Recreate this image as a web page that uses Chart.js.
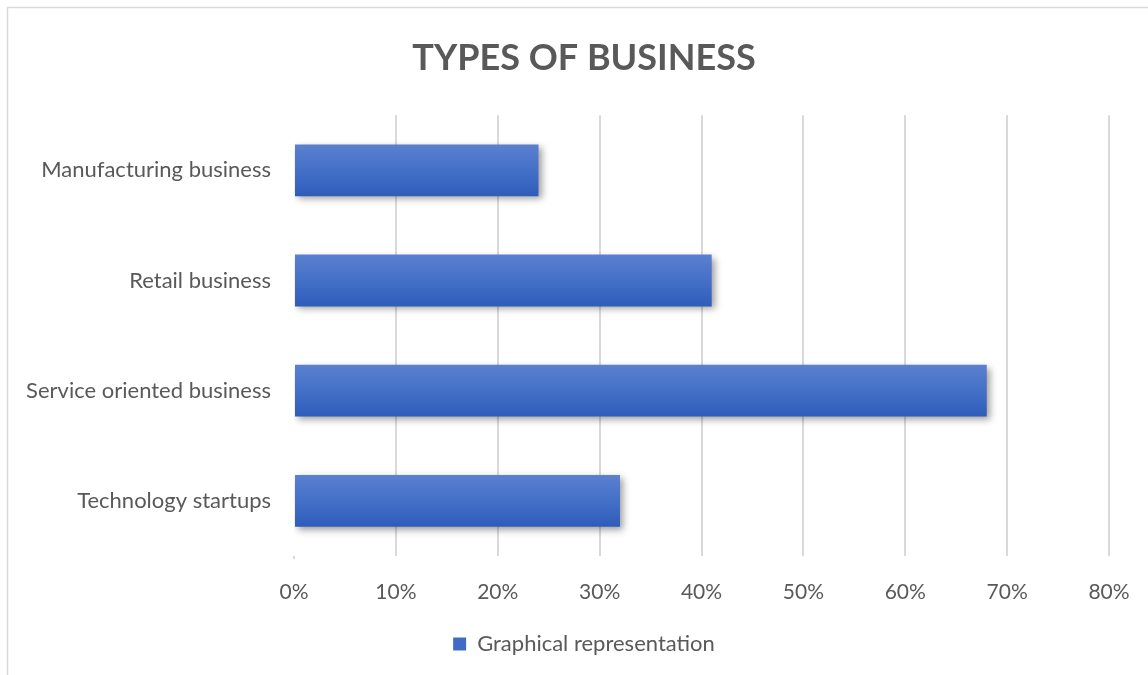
<!DOCTYPE html>
<html>
<head>
<meta charset="utf-8">
<title>Types of business</title>
<script src="https://cdn.jsdelivr.net/npm/chart.js@4/dist/chart.umd.min.js"></script>
<style>
  html, body { margin: 0; padding: 0; background: #ffffff; }
  canvas { display: block; }
</style>
</head>
<body>
<canvas id="businessChart" width="1148" height="675"></canvas>
<script>
// chart data
const categories = ['Manufacturing business', 'Retail business', 'Service oriented business', 'Technology startups'];
const shares = [0.24, 0.41, 0.68, 0.32];
const tickValues = [0, 0.1, 0.2, 0.3, 0.4, 0.5, 0.6, 0.7, 0.8];
const seriesName = 'Graphical representation';

const textColor = '#595959';
const gridColor = '#d9d9d9';
const barShare = 0.47;
const padLeft = 59;

// vertical gradient for each bar, based on its band on the y scale
function barFill(context) {
    const chart = context.chart;
    const yScale = chart.scales.y;
    if (!yScale || !chart.chartArea) return '#3f6bc6';
    const band = (chart.chartArea.bottom - chart.chartArea.top) / categories.length;
    const cy = yScale.getPixelForValue(context.dataIndex);
    const half = band * barShare / 2;
    const g = chart.ctx.createLinearGradient(0, cy - half, 0, cy + half);
    g.addColorStop(0, '#5b80cf');
    g.addColorStop(0.5, '#4470c8');
    g.addColorStop(1, '#2e5cb9');
    return g;
}

// soft drop shadow under the bars
const barShadow = {
    id: 'barShadow',
    beforeDatasetsDraw(chart) {
        const ctx = chart.ctx;
        ctx.save();
        ctx.shadowColor = 'rgba(0, 0, 0, 0.38)';
        ctx.shadowBlur = 7;
        ctx.shadowOffsetX = 3;
        ctx.shadowOffsetY = 3;
    },
    afterDatasetsDraw(chart) {
        chart.ctx.restore();
    }
};

// let the long category names run past the left padding
const wideLabels = {
    id: 'wideLabels',
    afterLayout(chart) {
        chart.scales.y.left = 0;
    }
};

// thin frame round the chart
const frame = {
    id: 'frame',
    beforeDraw(chart) {
        const ctx = chart.ctx;
        ctx.save();
        ctx.strokeStyle = gridColor;
        ctx.lineWidth = 1.5;
        ctx.beginPath();
        ctx.moveTo(7.5, chart.height);
        ctx.lineTo(7.5, 7.5);
        ctx.lineTo(chart.width, 7.5);
        ctx.stroke();
        ctx.restore();
    }
};

const ctx = document.getElementById('businessChart').getContext('2d');
const businessChart = new Chart(ctx, {
    type: 'bar',
    data: {
        labels: categories,
        datasets: [{
            label: seriesName,
            data: shares,
            backgroundColor: barFill,
            borderWidth: 0,
            barPercentage: barShare,
            categoryPercentage: 1
        }]
    },
    plugins: [frame, barShadow, wideLabels],
    options: {
        indexAxis: 'y',
        responsive: false,
        animation: false,
        devicePixelRatio: 1,
        layout: {
            padding: { left: padLeft, right: 39, top: 0, bottom: 10 }
        },
        scales: {
            x: {
                min: 0,
                max: 0.8,
                afterBuildTicks(scale) {
                    scale.ticks = tickValues.map(v => ({ value: v }));
                },
                afterFit(scale) {
                    scale.height = 67;
                    scale.paddingLeft = 0;
                    scale.paddingRight = 0;
                },
                grid: {
                    color: c => c.index === 0 ? 'rgba(0,0,0,0)' : gridColor,
                    tickColor: c => c.index === 0 ? gridColor : 'rgba(0,0,0,0)',
                    lineWidth: 2,
                    drawTicks: true,
                    tickLength: 3
                },
                border: { display: false },
                ticks: {
                    padding: 21,
                    color: textColor,
                    font: { family: 'Lato', size: 21 },
                    maxRotation: 0,
                    callback: v => Math.round(v * 100) + '%'
                }
            },
            y: {
                afterFit(scale) {
                    scale.width = 294 - padLeft;
                },
                grid: { display: false, drawTicks: false },
                border: { display: false },
                ticks: {
                    padding: 23,
                    color: textColor,
                    font: { family: 'Lato', size: 22 }
                }
            }
        },
        plugins: {
            title: {
                display: true,
                text: 'TYPES OF BUSINESS',
                color: textColor,
                font: { family: 'Lato', size: 36, weight: 'bold' },
                padding: { top: 37, bottom: 35 }
            },
            legend: {
                position: 'bottom',
                labels: {
                    color: textColor,
                    font: { family: 'Lato', size: 22 },
                    boxWidth: 13,
                    boxHeight: 13,
                    padding: 10,
                    generateLabels: chart => [{
                        text: seriesName,
                        fillStyle: '#3f6bc6',
                        strokeStyle: '#3f6bc6',
                        lineWidth: 0,
                        fontColor: textColor,
                        datasetIndex: 0
                    }]
                }
            },
            tooltip: { enabled: false }
        }
    }
});
</script>
</body>
</html>
